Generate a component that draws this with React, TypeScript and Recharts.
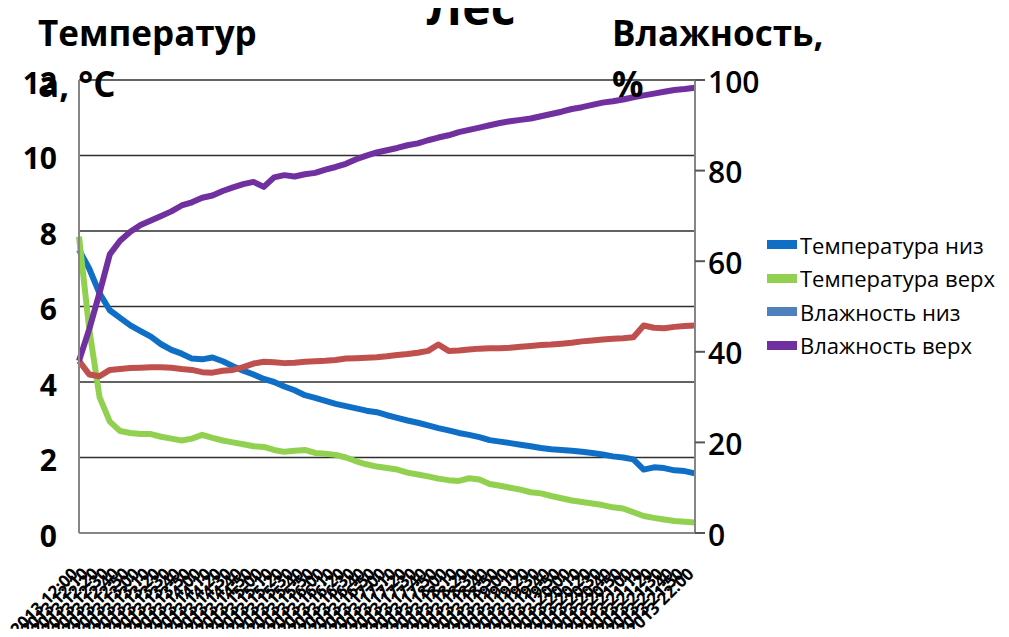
import { LineChart, Line, XAxis, YAxis, CartesianGrid } from "recharts";

const TIME_LABELS = [
  "05.06.2013 12:00", "05.06.2013 12:10", "05.06.2013 12:20", "05.06.2013 12:30", "05.06.2013 12:40", "05.06.2013 12:50",
  "05.06.2013 13:00", "05.06.2013 13:10", "05.06.2013 13:20", "05.06.2013 13:30", "05.06.2013 13:40", "05.06.2013 13:50",
  "05.06.2013 14:00", "05.06.2013 14:10", "05.06.2013 14:20", "05.06.2013 14:30", "05.06.2013 14:40", "05.06.2013 14:50",
  "05.06.2013 15:00", "05.06.2013 15:10", "05.06.2013 15:20", "05.06.2013 15:30", "05.06.2013 15:40", "05.06.2013 15:50",
  "05.06.2013 16:00", "05.06.2013 16:10", "05.06.2013 16:20", "05.06.2013 16:30", "05.06.2013 16:40", "05.06.2013 16:50",
  "05.06.2013 17:00", "05.06.2013 17:10", "05.06.2013 17:20", "05.06.2013 17:30", "05.06.2013 17:40", "05.06.2013 17:50",
  "05.06.2013 18:00", "05.06.2013 18:10", "05.06.2013 18:20", "05.06.2013 18:30", "05.06.2013 18:40", "05.06.2013 18:50",
  "05.06.2013 19:00", "05.06.2013 19:10", "05.06.2013 19:20", "05.06.2013 19:30", "05.06.2013 19:40", "05.06.2013 19:50",
  "05.06.2013 20:00", "05.06.2013 20:10", "05.06.2013 20:20", "05.06.2013 20:30", "05.06.2013 20:40", "05.06.2013 20:50",
  "05.06.2013 21:00", "05.06.2013 21:10", "05.06.2013 21:20", "05.06.2013 21:30", "05.06.2013 21:40", "05.06.2013 21:50",
  "05.06.2013 22:00",
];

// температура, °C (левая ось)
const TEMP_LOW = [
  7.5, 7.0, 6.35, 5.9, 5.7, 5.5, 5.35, 5.2, 5.0, 4.85,
  4.75, 4.62, 4.6, 4.65, 4.55, 4.42, 4.3, 4.2, 4.08, 4.0,
  3.88, 3.78, 3.65, 3.58, 3.5, 3.42, 3.36, 3.3, 3.24, 3.2,
  3.12, 3.05, 2.98, 2.92, 2.85, 2.78, 2.72, 2.65, 2.6, 2.54,
  2.46, 2.42, 2.38, 2.34, 2.3, 2.25, 2.22, 2.2, 2.18, 2.15,
  2.12, 2.08, 2.03, 2.0, 1.95, 1.68, 1.74, 1.72, 1.66, 1.64,
  1.58,
];

const TEMP_HIGH = [
  7.85, 5.4, 3.6, 2.95, 2.7, 2.65, 2.62, 2.62, 2.55, 2.5,
  2.45, 2.5, 2.6, 2.52, 2.45, 2.4, 2.35, 2.3, 2.28, 2.2,
  2.15, 2.18, 2.2, 2.12, 2.1, 2.07, 2.0, 1.9, 1.82, 1.76,
  1.72, 1.68, 1.6, 1.55, 1.5, 1.44, 1.4, 1.38, 1.45, 1.42,
  1.3, 1.25, 1.2, 1.15, 1.08, 1.05, 0.98, 0.92, 0.86, 0.82,
  0.78, 0.74, 0.68, 0.65, 0.55, 0.45, 0.4, 0.36, 0.32, 0.3,
  0.28,
];

// влажность, % (правая ось)
const HUM_LOW = [
  38, 35, 34.6, 36, 36.2, 36.4, 36.5, 36.6, 36.6, 36.5,
  36.2, 36, 35.5, 35.4, 35.8, 36, 36.6, 37.4, 37.8, 37.7,
  37.5, 37.6, 37.8, 37.9, 38, 38.2, 38.5, 38.6, 38.7, 38.8,
  39, 39.3, 39.5, 39.8, 40.2, 41.6, 40.2, 40.3, 40.5, 40.7,
  40.8, 40.8, 40.9, 41.1, 41.3, 41.5, 41.6, 41.8, 42, 42.3,
  42.5, 42.7, 42.9, 43, 43.2, 45.8, 45.3, 45.2, 45.5, 45.7,
  45.8,
];

const HUM_HIGH = [
  38, 45, 53, 61.5, 64.5, 66.5, 68, 69, 70, 71,
  72.3, 73, 74, 74.5, 75.5, 76.3, 77, 77.5, 76.4, 78.5,
  79, 78.7, 79.2, 79.5, 80.2, 80.8, 81.5, 82.5, 83.3, 84,
  84.5, 85, 85.6, 86, 86.7, 87.3, 87.8, 88.5, 89, 89.5,
  90, 90.5, 90.9, 91.2, 91.5, 92, 92.5, 93, 93.6, 94,
  94.5, 95, 95.3, 95.7, 96.2, 96.6, 97, 97.4, 97.8, 98,
  98.3,
];

const TEMP_TICKS = [0, 2, 4, 6, 8, 10, 12];
const HUM_TICKS = [0, 20, 40, 60, 80, 100];

const SERIES = [
  { key: "tLow", name: "Температура низ", axis: "temp", color: "#0F6FC6", legend: "#0F6FC6" },
  { key: "tHigh", name: "Температура верх", axis: "temp", color: "#92D050", legend: "#92D050" },
  { key: "hLow", name: "Влажность низ", axis: "hum", color: "#C0504D", legend: "#4F81BD" },
  { key: "hHigh", name: "Влажность верх", axis: "hum", color: "#7030A0", legend: "#7030A0" },
];

const data = TIME_LABELS.map((time, i) => ({
  time,
  tLow: TEMP_LOW[i],
  tHigh: TEMP_HIGH[i],
  hLow: HUM_LOW[i],
  hHigh: HUM_HIGH[i],
}));

const FONT = "'Open Sans', 'DejaVu Sans', sans-serif";

function TimeTick({ x, y, payload }: any) {
  return (
    <text
      x={x}
      y={y}
      transform={`rotate(-45 ${x} ${y})`}
      textAnchor="end"
      fontSize={17}
      fontWeight={700}
      fontFamily={FONT}
      fill="#000"
    >
      {payload.value}
    </text>
  );
}

export default function App() {
  return (
    <div
      style={{
        position: "relative",
        width: 1009,
        height: 637,
        margin: -8,
        overflow: "hidden",
        background: "#fff",
        fontFamily: FONT,
      }}
    >
      <LineChart
        width={1009}
        height={637}
        data={data}
        margin={{ top: 80, right: 0, bottom: 0, left: 0 }}
      >
        <CartesianGrid
          yAxisId="temp"
          vertical={false}
          stroke="#2e2e2e"
          strokeWidth={1.5}
        />
        <XAxis
          dataKey="time"
          interval={0}
          height={104}
          tickLine={false}
          tickSize={0}
          tickMargin={42}
          axisLine={{ stroke: "#868686", strokeWidth: 2 }}
          tick={<TimeTick />}
        />
        <YAxis
          yAxisId="temp"
          orientation="left"
          width={79}
          domain={[0, 12]}
          ticks={TEMP_TICKS}
          interval={0}
          tickLine={false}
          tickMargin={16}
          axisLine={{ stroke: "#868686", strokeWidth: 2 }}
          tick={{ fontSize: 30, fontWeight: 700, fill: "#000", fontFamily: FONT, dy: 3 }}
        />
        <YAxis
          yAxisId="hum"
          orientation="right"
          width={314}
          domain={[0, 100]}
          ticks={HUM_TICKS}
          interval={0}
          tickSize={10}
          tickMargin={3}
          tickLine={{ stroke: "#555", strokeWidth: 2 }}
          axisLine={{ stroke: "#868686", strokeWidth: 2 }}
          tick={{ fontSize: 30, fontWeight: 600, fill: "#000", fontFamily: FONT, dy: 2 }}
        />
        {SERIES.map((s) => (
          <Line
            key={s.key}
            yAxisId={s.axis}
            dataKey={s.key}
            name={s.name}
            type="linear"
            stroke={s.color}
            strokeWidth={6}
            strokeLinejoin="round"
            dot={false}
            isAnimationActive={false}
          />
        ))}
      </LineChart>

      <svg
        width={1009}
        height={637}
        style={{ position: "absolute", left: 0, top: 0, pointerEvents: "none" }}
      >
        <text x={471} y={25} textAnchor="middle" fontSize={48} fontWeight={700} fontFamily={FONT} fill="#000">
          Лес
        </text>
        <text x={38} y={46} fontSize={35} fontWeight={700} fontFamily={FONT} fill="#000">
          Температур
        </text>
        <text x={38} y={97} fontSize={35} fontWeight={700} fontFamily={FONT} fill="#000">
          а, °С
        </text>
        <text x={612} y={46} fontSize={35} fontWeight={700} fontFamily={FONT} fill="#000">
          Влажность,
        </text>
        <text x={612} y={97} fontSize={35} fontWeight={700} fontFamily={FONT} fill="#000">
          %
        </text>
      </svg>

      <div style={{ position: "absolute", left: 767, top: 228 }}>
        {SERIES.map((s) => (
          <div
            key={s.key}
            style={{ display: "flex", alignItems: "center", height: 33.5 }}
          >
            <span
              style={{
                display: "inline-block",
                width: 30,
                height: 9,
                background: s.legend,
                marginRight: 3,
              }}
            />
            <span style={{ fontSize: 22, color: "#000", whiteSpace: "nowrap" }}>
              {s.name}
            </span>
          </div>
        ))}
      </div>
    </div>
  );
}
